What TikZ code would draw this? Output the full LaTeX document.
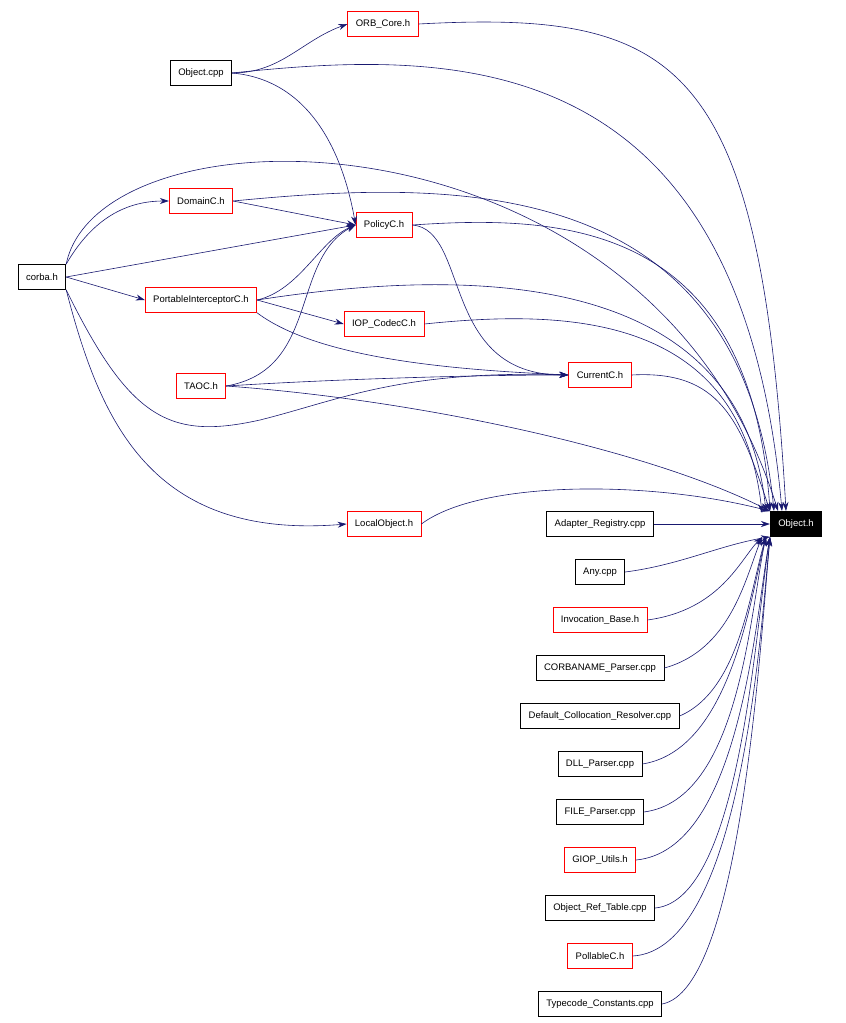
\documentclass[tikz,border=0pt]{standalone}
\usepackage{fontspec}
\setmainfont{Liberation Sans}
\usetikzlibrary{arrows.meta}
\definecolor{edge}{HTML}{191970}
\begin{document}
\begin{tikzpicture}[x=1pt,y=-1pt,
  n/.style={draw=black,fill=white,minimum height=25pt,inner xsep=8pt,font=\fontsize{9.5}{10}\selectfont,line width=0.7pt},
  r/.style={n,draw=red},
  e/.style={draw=edge,line width=0.6pt,-{Stealth[length=9pt,width=6pt]}}]
\useasboundingbox (0,0) rectangle (846,1023);
\node[r] (orb) at (383,24) {ORB\_Core.h};
\node[n] (ocpp) at (201,73) {Object.cpp};
\node[r] (dom) at (201,201) {DomainC.h};
\node[r] (pol) at (384,225) {PolicyC.h};
\node[n] (corba) at (42,277) {corba.h};
\node[r] (pi) at (201,300) {PortableInterceptorC.h};
\node[r] (iop) at (384,324) {IOP\_CodecC.h};
\node[r] (cur) at (600,375) {CurrentC.h};
\node[r] (tao) at (201,386) {TAOC.h};
\node[r] (lo) at (384,524) {LocalObject.h};
\node[n,fill=black,text=white] (obj) at (796,524) {Object.h};
\node[n] (ar) at (600,524) {Adapter\_Registry.cpp};
\node[n] (any) at (600,572) {Any.cpp};
\node[r] (ib) at (600,620) {Invocation\_Base.h};
\node[n] (cp) at (600,668) {CORBANAME\_Parser.cpp};
\node[n] (dcr) at (600,716) {Default\_Collocation\_Resolver.cpp};
\node[n] (dll) at (600,764) {DLL\_Parser.cpp};
\node[n] (fp) at (600,812) {FILE\_Parser.cpp};
\node[r] (giop) at (600,860) {GIOP\_Utils.h};
\node[n] (ort) at (600,908) {Object\_Ref\_Table.cpp};
\node[r] (poll) at (600,956) {PollableC.h};
\node[n] (tc) at (600,1004) {Typecode\_Constants.cpp};
\coordinate (t1) at (782,511);
\coordinate (t2) at (786,511);
\coordinate (t3) at (778,511);
\coordinate (t4) at (774,511);
\coordinate (t5) at (770,511);
\coordinate (t6) at (766,512);
\coordinate (t7) at (762,513);
\coordinate (b1) at (762,537);
\coordinate (b2) at (766,537);
\coordinate (b3) at (770,537);
% top group
\draw[e] (ocpp.east) to[out=0,in=200] (orb.west);
\draw[e] (ocpp.east) to[out=-5,in=100] (pol.west);
\draw[e] (ocpp.east) .. controls (450,50) and (740,40) .. (t1);
\draw[e] (orb.east) .. controls (680,10) and (760,60) .. (t2);
\draw[e] (corba.north east) .. controls (100,100) and (650,100) .. (t3);
\draw[e] (corba.north east) to[out=60,in=180] (dom.west);
\draw[e] (corba.east) -- (pol.west);
\draw[e] (corba.east) -- (pi.west);
\draw[e] (corba.south east) .. controls (130,420) and (170,440) .. (260,420) .. controls (340,400) and (400,370) .. (cur.west);
\draw[e] (corba.south east) .. controls (100,420) and (150,540) .. (lo.west);
\draw[e] (dom.east) -- (pol.west);
\draw[e] (dom.east) .. controls (450,180) and (740,170) .. (t4);
\draw[e] (pol.east) .. controls (560,215) and (750,220) .. (t5);
\draw[e] (pol.east) .. controls (470,230) and (440,375) .. (cur.west);
\draw[e] (pi.east) .. controls (300,290) and (320,240) .. (pol.west);
\draw[e] (pi.east) -- (iop.west);
\draw[e] (pi.south east) .. controls (320,360) and (460,370) .. (cur.west);
\draw[e] (pi.east) .. controls (450,270) and (740,260) .. (t6);
\draw[e] (iop.east) .. controls (560,310) and (740,310) .. (t7);
\draw[e] (cur.east) .. controls (720,370) and (740,420) .. (obj.north west);
\draw[e] (tao.east) .. controls (320,370) and (290,260) .. (pol.west);
\draw[e] (tao.east) .. controls (320,380) and (460,375) .. (cur.west);
\draw[e] (tao.east) .. controls (420,400) and (650,450) .. (obj.north west);
\draw[e] (lo.east) .. controls (480,480) and (650,480) .. (obj.north west);
% bottom group
\draw[e] (ar.east) -- (obj.west);
\draw[e] (any.east) .. controls (680,565) and (720,545) .. (obj.south west);
\draw[e] (ib.east) .. controls (720,610) and (740,560) .. (b1);
\draw[e] (cp.east) .. controls (730,650) and (745,580) .. (b1);
\draw[e] (dcr.east) .. controls (740,690) and (750,590) .. (b2);
\draw[e] (dll.east) .. controls (730,750) and (750,600) .. (b2);
\draw[e] (fp.east) .. controls (740,800) and (750,610) .. (b2);
\draw[e] (giop.east) .. controls (740,850) and (755,620) .. (b3);
\draw[e] (ort.east) .. controls (740,900) and (755,630) .. (b3);
\draw[e] (poll.east) .. controls (740,950) and (760,640) .. (b3);
\draw[e] (tc.east) .. controls (740,990) and (760,650) .. (b3);
\end{tikzpicture}
\end{document}
